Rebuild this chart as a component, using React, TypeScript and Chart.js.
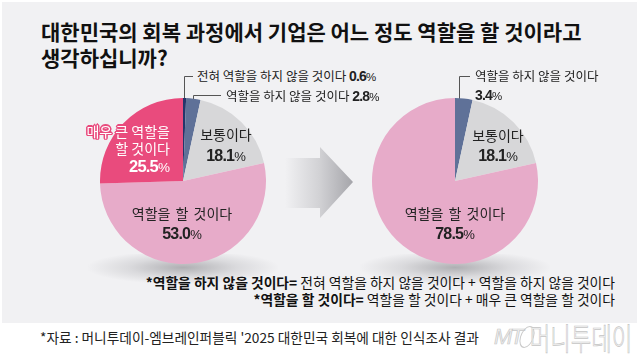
import React, { useEffect, useRef } from "react";
import { Chart, registerables } from "chart.js";

Chart.register(...registerables);

const pie1Labels = ["전혀 역할을 하지 않을 것이다", "역할을 하지 않을 것이다", "보통이다", "역할을 할 것이다", "매우 큰 역할을 할 것이다"];
const pie1Values = [0.6, 2.8, 18.1, 53.0, 25.5];
const pie1Colors = ["#24356a", "#5f7198", "#d7d7d9", "#e7abc9", "#e94b7d"];

const pie2Labels = ["역할을 하지 않을 것이다", "보통이다", "역할을 할 것이다"];
const pie2Values = [3.4, 18.1, 78.5];
const pie2Colors = ["#5f7198", "#d7d7d9", "#e7abc9"];

const titleLines = ["대한민국의 회복 과정에서 기업은 어느 정도 역할을 할 것이라고", "생각하십니까?"];
const footnotes = [
  ["*역할을 하지 않을 것이다=", " 전혀 역할을 하지 않을 것이다 + 역할을 하지 않을 것이다"],
  ["*역할을 할 것이다=", " 역할을 할 것이다 + 매우 큰 역할을 할 것이다"],
];
const sourceText = "*자료 : 머니투데이-엠브레인퍼블릭 '2025 대한민국 회복에 대한 인식조사 결과";

const KR = "'Noto Sans CJK KR', 'Noto Sans', sans-serif";
const NUM = "'Liberation Sans', Arial, sans-serif";
const TXT = "#222";

function PieCanvas({ values, labels, colors, left, top, size }: any) {
  const ref = useRef<HTMLCanvasElement>(null);
  useEffect(() => {
    if (!ref.current) return;
    const chart = new Chart(ref.current, {
      type: "pie",
      data: {
        labels,
        datasets: [{ data: values, backgroundColor: colors, borderWidth: 0 }],
      },
      options: {
        responsive: false,
        maintainAspectRatio: false,
        animation: false,
        layout: { padding: 0 },
        plugins: { legend: { display: false }, tooltip: { enabled: false } },
      },
    });
    return () => chart.destroy();
  }, []);
  return (
    <canvas
      ref={ref}
      width={size}
      height={size}
      style={{ position: "absolute", left, top, width: size, height: size }}
    />
  );
}

function Txt({ x, y, align = "center", style = {}, children }: any) {
  const tx = align === "center" ? "-50%" : align === "right" ? "-100%" : "0";
  return (
    <div
      style={{
        position: "absolute",
        left: x,
        top: y,
        transform: `translate(${tx}, -50%)`,
        whiteSpace: "nowrap",
        lineHeight: 1,
        fontFamily: KR,
        color: TXT,
        textAlign: align,
        ...style,
      }}
    >
      {children}
    </div>
  );
}

function Pct({ v, size = 16 }: any) {
  return (
    <span style={{ fontFamily: NUM, fontWeight: 700, fontSize: size, letterSpacing: -0.8 }}>
      {v.toFixed(1)}
      <span style={{ fontWeight: 400, fontSize: size * 0.82, letterSpacing: 0 }}>%</span>
    </span>
  );
}

const pinkOutline = [
  "1.5px 0 0 #e94b7d", "-1.5px 0 0 #e94b7d", "0 1.5px 0 #e94b7d", "0 -1.5px 0 #e94b7d",
  "1px 1px 0 #e94b7d", "-1px -1px 0 #e94b7d", "1px -1px 0 #e94b7d", "-1px 1px 0 #e94b7d",
].join(",");

export default function App() {
  const c1 = { x: 183, y: 181 };
  const c2 = { x: 455, y: 181 };
  const r = 83;
  return (
    <div style={{ position: "absolute", left: 0, top: 0, width: 640, height: 356, background: "#fff", overflow: "hidden" }}>
      <div style={{ position: "absolute", left: 2, top: 2, width: 635, height: 321, background: "#f1f1f3" }} />

      {[c1, c2].map((c, i) => (
        <div
          key={i}
          style={{
            position: "absolute",
            left: c.x - 95,
            top: 254,
            width: 190,
            height: 30,
            background: "radial-gradient(ellipse at 50% 45%, rgba(110,110,115,0.5) 0%, rgba(150,150,155,0.25) 40%, rgba(241,241,243,0) 72%)",
          }}
        />
      ))}

      <svg width={640} height={356} style={{ position: "absolute", left: 0, top: 0 }}>
        <defs>
          <linearGradient id="ag" x1="285" y1="0" x2="353" y2="0" gradientUnits="userSpaceOnUse">
            <stop offset="0" stopColor="#f1f1f3" />
            <stop offset="0.5" stopColor="#d2d2d5" />
            <stop offset="1" stopColor="#a5a5aa" />
          </linearGradient>
        </defs>
        <polygon points="285,158 320,158 320,147 353,182 320,218 320,208 285,208" fill="url(#ag)" />
        <polyline points="184.5,99 184.5,76.5 193,76.5" fill="none" stroke="#555" strokeWidth={1} />
        <polyline points="193.5,101 193.5,95.5 221,95.5" fill="none" stroke="#555" strokeWidth={1} />
        <polyline points="459.5,99 459.5,76.5 470,76.5" fill="none" stroke="#555" strokeWidth={1} />
      </svg>

      <PieCanvas values={pie1Values} labels={pie1Labels} colors={pie1Colors} left={c1.x - r} top={c1.y - r} size={r * 2} />
      <PieCanvas values={pie2Values} labels={pie2Labels} colors={pie2Colors} left={c2.x - r} top={c2.y - r} size={r * 2} />

      {/* Title */}
      <Txt x={41} y={31} align="left" style={{ fontSize: 21, fontWeight: 700, color: "#111", letterSpacing: 0 }}>{titleLines[0]}</Txt>
      <Txt x={41} y={57} align="left" style={{ fontSize: 21, fontWeight: 700, color: "#111", letterSpacing: 0 }}>{titleLines[1]}</Txt>

      {/* Pie 1 labels */}
      <Txt x={197} y={76} align="left" style={{ fontSize: 12.5 }}>
        {pie1Labels[0]} <Pct v={pie1Values[0]} size={14} />
      </Txt>
      <Txt x={226} y={96} align="left" style={{ fontSize: 12.5 }}>
        {pie1Labels[1]} <Pct v={pie1Values[1]} size={14} />
      </Txt>
      <Txt x={170} y={149} align="right" style={{ fontSize: 14, color: "#fff", textShadow: pinkOutline }}>
        <div>매우 큰 역할을</div>
        <div style={{ marginTop: 3 }}>할 것이다</div>
        <div style={{ marginTop: 3, textShadow: "none" }}><Pct v={pie1Values[4]} size={16.5} /></div>
      </Txt>
      <Txt x={226} y={134} style={{ fontSize: 14 }}>{pie1Labels[2]}</Txt>
      <Txt x={226} y={155}><Pct v={pie1Values[2]} /></Txt>
      <Txt x={182} y={213} style={{ fontSize: 14, wordSpacing: 2 }}>{pie1Labels[3]}</Txt>
      <Txt x={182} y={233}><Pct v={pie1Values[3]} /></Txt>

      {/* Pie 2 labels */}
      <Txt x={475} y={76} align="left" style={{ fontSize: 12.5 }}>{pie2Labels[0]}</Txt>
      <Txt x={475} y={94} align="left"><Pct v={pie2Values[0]} size={14} /></Txt>
      <Txt x={498} y={135} style={{ fontSize: 14 }}>{pie2Labels[1]}</Txt>
      <Txt x={498} y={155}><Pct v={pie2Values[1]} /></Txt>
      <Txt x={455} y={213} style={{ fontSize: 14, wordSpacing: 2 }}>{pie2Labels[2]}</Txt>
      <Txt x={455} y={233}><Pct v={pie2Values[2]} /></Txt>

      {/* Footnotes */}
      {footnotes.map((f, i) => (
        <Txt key={i} x={615} y={283 + i * 17} align="right" style={{ fontSize: 13.8, color: "#111" }}>
          <b>{f[0]}</b>{f[1]}
        </Txt>
      ))}

      {/* Source */}
      <Txt x={40} y={338} align="left" style={{ fontSize: 13.7, color: "#222" }}>{sourceText}</Txt>

      {/* Watermark */}
      <Txt x={494} y={337} align="left" style={{ fontFamily: NUM, fontSize: 22, fontStyle: "italic", color: "#f2f2f2", WebkitTextStroke: "0.7px #c8c8c8", letterSpacing: -2 }}>MT</Txt>
      <div style={{ position: "absolute", left: 520, top: 326, width: 12, height: 20, borderRadius: "50%", border: "1.2px solid #cacaca", transform: "skewX(-15deg)" }} />
      <Txt x={581} y={336} style={{ fontSize: 31, fontWeight: 300, color: "#f8f8f8", WebkitTextStroke: "0.7px #c4c4c4", transform: "translate(-50%,-50%) scaleX(0.72)" }}>머니투데이</Txt>
    </div>
  );
}
